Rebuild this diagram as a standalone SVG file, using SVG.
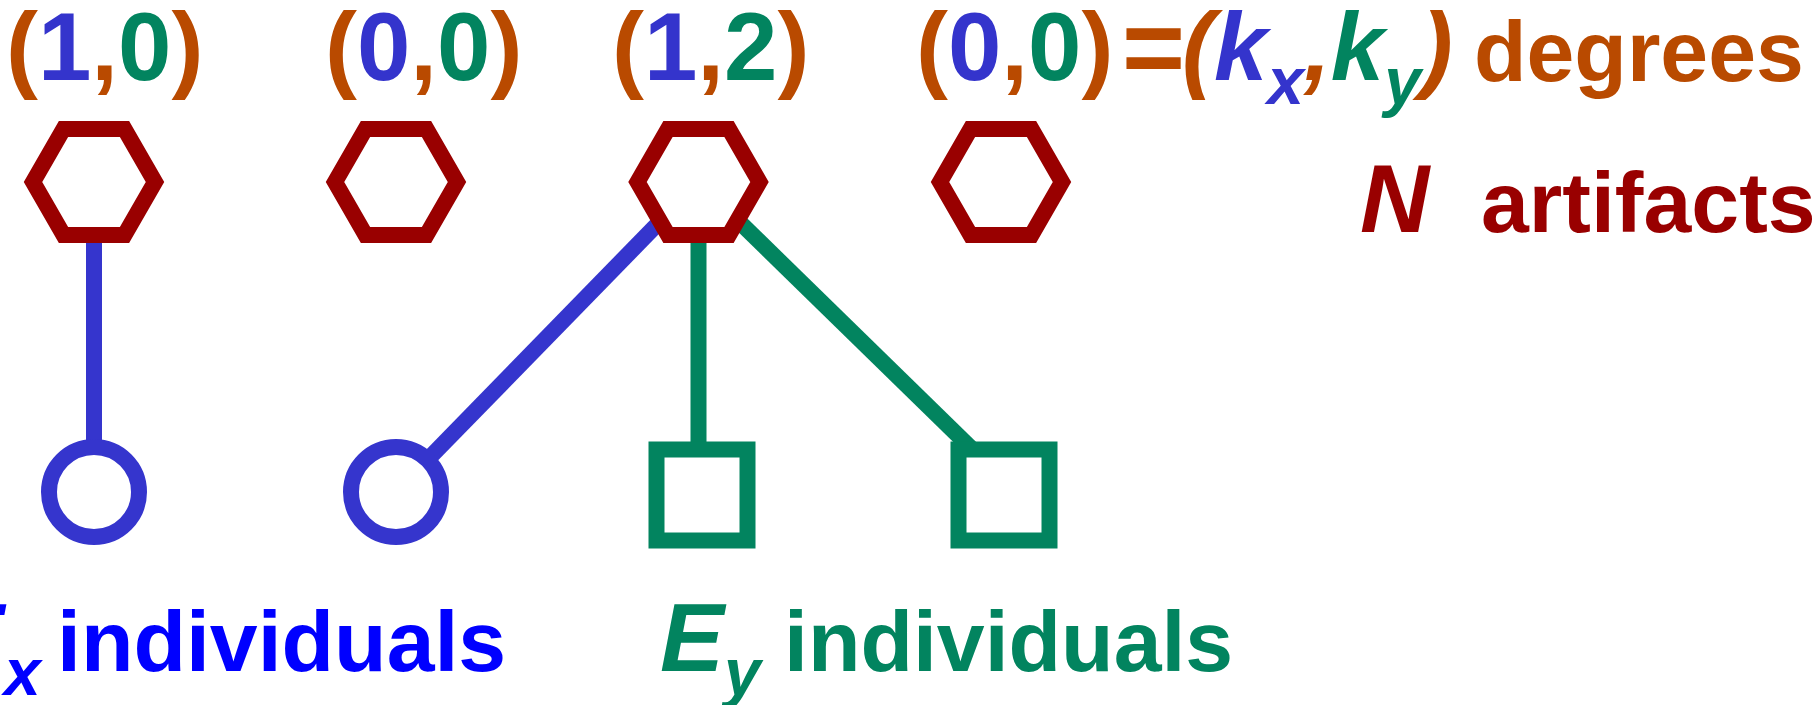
<svg xmlns="http://www.w3.org/2000/svg" width="1816" height="705" viewBox="0 0 1816 705">
<style>
.t{font-family:"Liberation Sans",Arial,sans-serif;font-weight:bold}
.it{font-style:italic}
.o{fill:#B94A00}
.b{fill:#3434CC}
.g{fill:#02845F}
.r{fill:#990000}
.hex{fill:#fff;stroke:#990000;stroke-width:16}
.circ{fill:#fff;stroke:#3535CD;stroke-width:16}
.sq{fill:#fff;stroke:#02845F;stroke-width:16}
.lb{stroke:#3535CD;stroke-width:16;fill:none}
.lg{stroke:#02845F;stroke-width:16;fill:none}
</style>
<defs>
<polygon id="hx" points="-30.5,-53 30.5,-53 61,0 30.5,53 -30.5,53 -61,0"/>
</defs>
<g id="connectors">
<line class="lb" x1="94" y1="182" x2="94" y2="492"/>
<line class="lb" x1="698.5" y1="182" x2="396" y2="492"/>
<line class="lg" x1="698.5" y1="182" x2="698.5" y2="495"/>
<line class="lg" x1="698.5" y1="182" x2="975" y2="452"/>
</g>
<g id="artifact1"><use href="#hx" class="hex" x="94" y="182"/></g>
<g id="artifact2"><use href="#hx" class="hex" x="396" y="182"/></g>
<g id="artifact3"><use href="#hx" class="hex" x="698.5" y="182"/></g>
<g id="artifact4"><use href="#hx" class="hex" x="1001" y="182"/></g>
<g id="indX1"><circle class="circ" cx="94" cy="492" r="45"/></g>
<g id="indX2"><circle class="circ" cx="396" cy="492" r="45"/></g>
<g id="indY1"><rect class="sq" x="656.5" y="449.5" width="91" height="91"/></g>
<g id="indY2"><rect class="sq" x="958.5" y="449.5" width="91" height="91"/></g>
<g id="degrees" class="t" font-size="96">
<text x="6" y="80"><tspan class="o">(</tspan><tspan class="b">1</tspan><tspan class="o">,</tspan><tspan class="g">0</tspan><tspan class="o">)</tspan></text>
<text x="325" y="80"><tspan class="o">(</tspan><tspan class="b">0</tspan><tspan class="o">,</tspan><tspan class="g">0</tspan><tspan class="o">)</tspan></text>
<text x="612" y="80"><tspan class="o">(</tspan><tspan class="b">1</tspan><tspan class="o">,</tspan><tspan class="g">2</tspan><tspan class="o">)</tspan></text>
<text x="916" y="80"><tspan class="o">(</tspan><tspan class="b">0</tspan><tspan class="o">,</tspan><tspan class="g">0</tspan><tspan class="o">)</tspan></text>
<text x="1122" y="84" font-size="108" class="o">=</text>
<text x="1182" y="80" class="it"><tspan class="o">(</tspan><tspan class="b">k</tspan><tspan class="b" font-size="66" dy="24">x</tspan><tspan class="o" dy="-24">,</tspan><tspan class="g">k</tspan><tspan class="g" font-size="66" dy="24">y</tspan><tspan class="o" dy="-24">)</tspan></text>
<text x="1474" y="80.7" font-size="86" class="o">degrees</text>
</g>
<g id="labels" class="t">
<text x="1360" y="231.7" font-size="96" class="it r">N</text>
<text x="1481" y="231.7" font-size="86" class="r">artifacts</text>
<text x="-60" y="670.7" font-size="96" class="it" fill="#0000FF">E<tspan font-size="66" dy="24">x</tspan></text>
<text x="57" y="670.7" font-size="86" fill="#0000FF">individuals</text>
<text x="660" y="670.7" font-size="96" class="it g">E<tspan font-size="66" dy="24">y</tspan></text>
<text x="784" y="670.7" font-size="86" class="g">individuals</text>
</g>
</svg>
